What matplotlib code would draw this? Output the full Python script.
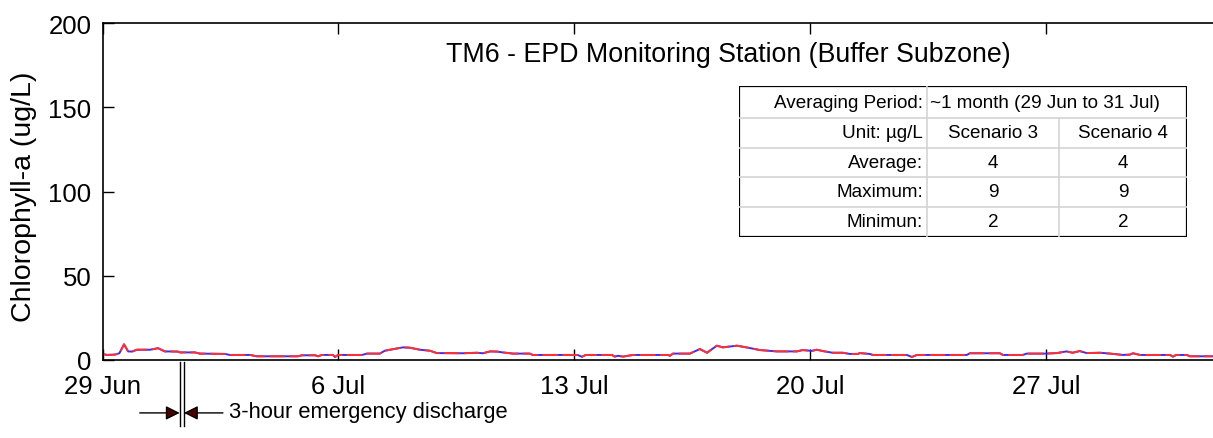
import numpy as np
import pandas as pd
import matplotlib
matplotlib.use("Agg")
import matplotlib.pyplot as plt
import matplotlib.dates as mdates
import matplotlib.transforms as mtransforms
from matplotlib.patches import Rectangle

plt.rcParams['font.family'] = ['Liberation Sans', 'DejaVu Sans']

# ---- data ----
start = pd.Timestamp('2020-06-29')
day_offset = [0.0, 0.13, 0.37, 0.5, 0.64, 0.76, 0.88, 1.02, 1.41, 1.65, 1.85, 2.24,
              2.3, 2.74, 2.89, 3.63, 3.78, 4.38, 4.58, 5.8, 5.92, 6.31, 6.4, 6.51,
              6.84, 6.9, 6.99, 7.7, 7.85, 8.23, 8.38, 8.59, 8.92, 9.12, 9.42, 9.72,
              9.92, 10.7, 11.11, 11.29, 11.5, 11.71, 11.88, 12.18, 12.68, 12.77, 14.1,
              14.23, 14.34, 15.12, 15.2, 15.3, 15.45, 15.74, 16.78, 16.84, 16.93, 17.43,
              17.73, 17.94, 18.23, 18.41, 18.83, 19.21, 19.51, 20.01, 20.61, 20.78,
              21.05, 21.2, 21.38, 21.67, 21.97, 22.18, 22.42, 22.47, 22.77, 22.86,
              23.87, 24.02, 24.17, 25.65, 25.74, 26.63, 26.72, 27.31, 27.43, 27.99,
              28.32, 28.61, 28.79, 29.0, 29.21, 29.6, 29.9, 30.28, 30.49, 30.58, 30.79,
              31.68, 31.77, 31.86, 32.18, 32.27, 32.93]
chl_scenario3 = [3.6, 3.0, 3.2, 4.0, 9.3, 5.1, 5.0, 6.1, 6.1, 7.0, 5.1, 5.0,
                 4.5, 4.5, 3.8, 3.6, 3.0, 3.0, 2.2, 2.2, 2.8, 2.8, 2.2, 3.0,
                 3.0, 1.8, 3.0, 3.0, 3.8, 3.8, 5.5, 6.3, 7.5, 7.3, 6.1, 5.5,
                 4.1, 4.0, 4.3, 4.0, 5.1, 5.0, 4.5, 3.8, 3.8, 3.0, 3.0,
                 1.9, 3.0, 3.0, 2.0, 2.5, 2.0, 3.0, 3.0, 2.5, 3.8, 3.8,
                 6.5, 4.3, 8.5, 7.5, 8.5, 7.1, 5.9, 5.1, 5.1, 5.9,
                 5.4, 6.1, 5.3, 4.3, 4.3, 3.6, 3.6, 4.1, 3.6, 3.0,
                 3.0, 1.8, 3.0, 3.0, 4.0, 4.0, 3.0, 3.0, 3.8, 3.8,
                 4.1, 5.1, 4.3, 5.3, 4.1, 4.3, 3.8, 3.0, 3.2, 4.0, 3.0,
                 3.0, 2.0, 3.0, 3.0, 2.2, 2.2]
chl_scenario4 = list(chl_scenario3)  # both scenarios overlap in the picture

tick_days = [0, 7, 14, 21, 28]
tick_labels = ['29 Jun', '6 Jul', '13 Jul', '20 Jul', '27 Jul']
y_ticks = [0, 50, 100, 150, 200]

table_rows = [
    ['Averaging Period:', '~1 month (29 Jun to 31 Jul)'],
    ['Unit: µg/L', 'Scenario 3', 'Scenario 4'],
    ['Average:', '4', '4'],
    ['Maximum:', '9', '9'],
    ['Minimun:', '2', '2'],
]

times = start + pd.to_timedelta(day_offset, unit='D')
W, H = 1213, 439

fig = plt.figure(figsize=(W / 100, H / 100), dpi=100)
ax = fig.add_axes([102.5 / W, (H - 361) / H, 1112 / W, 337 / H])

ax.plot(times, chl_scenario4, color='#3030ff', lw=1.4)
ax.plot(times, chl_scenario3, color='#ff3030', lw=1.4, dashes=(8, 2.2))

ax.set_xlim(start, start + pd.Timedelta(days=33))
ax.set_ylim(0, 200)
ax.set_xticks(start + pd.to_timedelta(tick_days, unit='D'))
ax.set_xticklabels(tick_labels)
ax.set_yticks(y_ticks)
ax.tick_params(direction='in', length=8, width=1, top=True, right=False,
               labelsize=18.5)
ax.tick_params(axis='x', pad=10)
ax.tick_params(axis='y', pad=8)
for s in ax.spines.values():
    s.set_linewidth(1.2)
ax.set_ylabel('Chlorophyll-a (ug/L)', fontsize=20.5)
ax.yaxis.set_label_coords(-0.059, 0.488)

ax.text(0.5625, 0.908, 'TM6 - EPD Monitoring Station (Buffer Subzone)',
        transform=ax.transAxes, ha='center', va='center', fontsize=19.3)

# emergency discharge marker
trans = mtransforms.blended_transform_factory(ax.transData, ax.transAxes)
d0 = mdates.date2num(start + pd.Timedelta(days=2, hours=7))
d1 = mdates.date2num(start + pd.Timedelta(days=2, hours=10))
for d in (d0, d1):
    ax.plot([d, d], [-0.006, -0.196], transform=trans, color='black', lw=1,
            clip_on=False)
ya = -0.157
head = dict(arrowstyle='-|>,head_length=0.6,head_width=0.3', color='black',
            fc='#4a0000', lw=1, mutation_scale=14, shrinkA=0, shrinkB=0)
ax.annotate('', xy=(d0, ya), xycoords=trans, xytext=(-40, 0),
            textcoords='offset pixels', arrowprops=head)
ax.annotate('', xy=(d1, ya), xycoords=trans, xytext=(39, 0),
            textcoords='offset pixels', arrowprops=head)
ax.annotate('3-hour emergency discharge', xy=(d1, ya), xycoords=trans,
            xytext=(45, 1), textcoords='offset pixels', ha='left', va='center',
            fontsize=15.8)

# statistics table
tw, th = 448, 151
tax = fig.add_axes([739 / W, (H - 238) / H, tw / W, th / H])
tax.set_xlim(0, tw)
tax.set_ylim(th, 0)
tax.axis('off')
tax.add_patch(Rectangle((0, 0), tw, th, fc='white', ec='none'))
row_edges = [0, 32, 62, 91, 121, 151]
col_edges = [0, 188, 320, 448]
grid = '#d4d4d4'
for y in row_edges[1:-1]:
    tax.plot([0, tw], [y, y], color=grid, lw=1.2)
tax.plot([col_edges[1], col_edges[1]], [0, th], color=grid, lw=1.2)
tax.plot([col_edges[2], col_edges[2]], [row_edges[1], th], color=grid, lw=1.2)
tax.add_patch(Rectangle((0, 0), tw, th, fc='none', ec='black', lw=1.6))
for i, row in enumerate(table_rows):
    yc = (row_edges[i] + row_edges[i + 1]) / 2
    tax.text(col_edges[1] - 4, yc, row[0], ha='right', va='center', fontsize=13.6)
    if len(row) == 2:
        tax.text(col_edges[1] + 3, yc, row[1], ha='left', va='center', fontsize=13.6)
    else:
        for j in (1, 2):
            xc = (col_edges[j] + col_edges[j + 1]) / 2
            tax.text(xc, yc, row[j], ha='center', va='center', fontsize=13.6)

fig.savefig('out.png', dpi=100)
